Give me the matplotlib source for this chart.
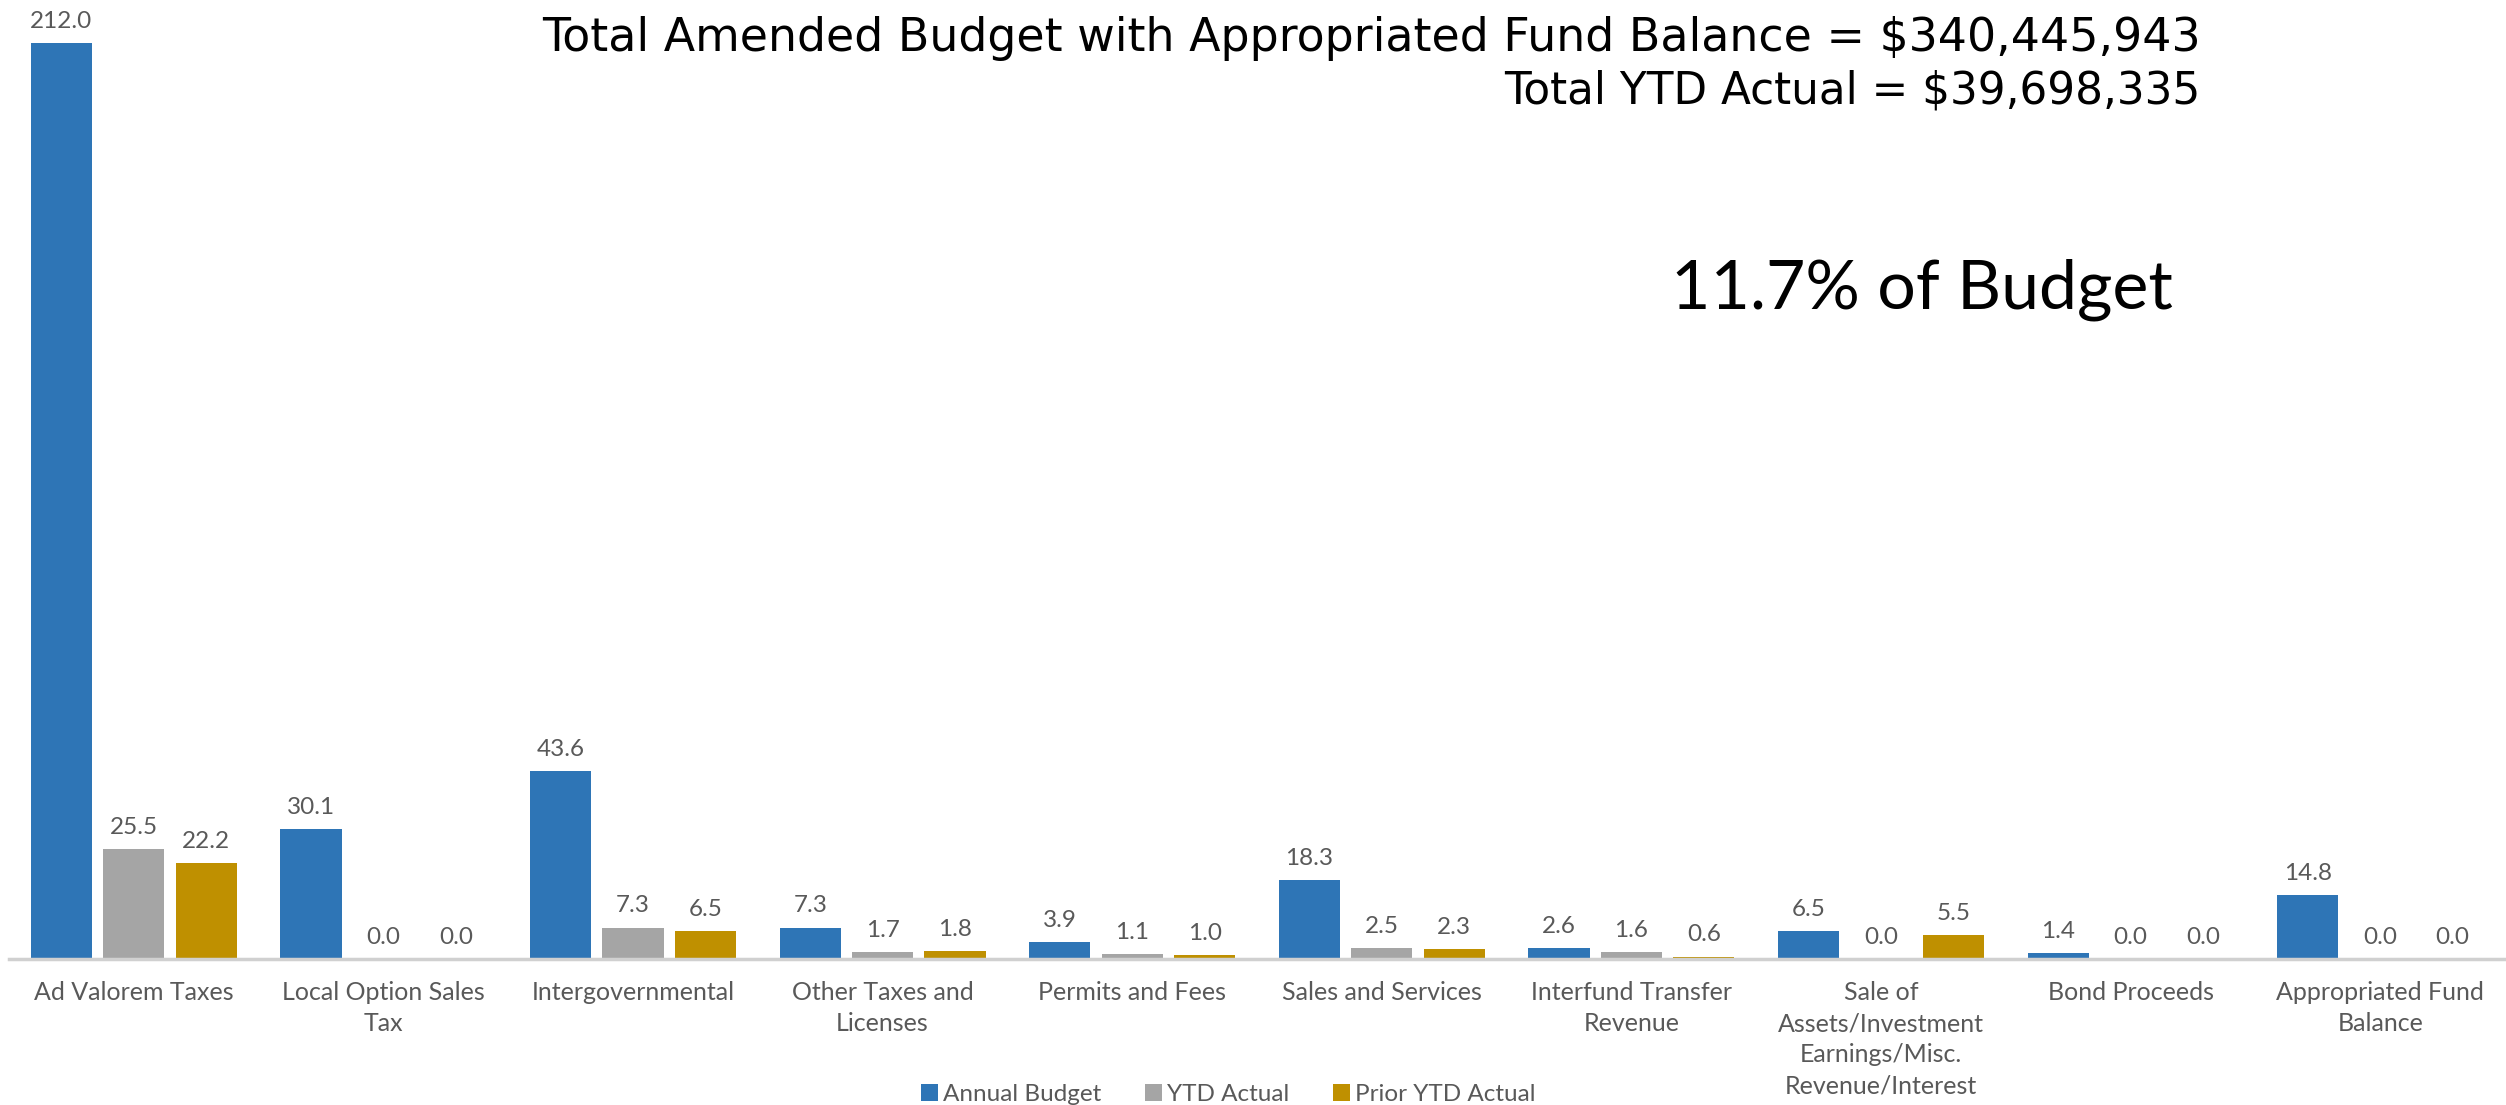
import numpy as np
import matplotlib
matplotlib.use("Agg")
import matplotlib.pyplot as plt
from matplotlib.patches import Patch

# revenue categories (millions)
categories = ["Ad Valorem Taxes", "Local Option Sales\nTax", "Intergovernmental",
              "Other Taxes and\nLicenses", "Permits and Fees", "Sales and Services",
              "Interfund Transfer\nRevenue",
              "Sale of\nAssets/Investment\nEarnings/Misc.\nRevenue/Interest",
              "Bond Proceeds", "Appropriated Fund\nBalance"]
annual_budget = [212.0, 30.1, 43.6, 7.3, 3.9, 18.3, 2.6, 6.5, 1.4, 14.8]
ytd_actual = [25.5, 0.0, 7.3, 1.7, 1.1, 2.5, 1.6, 0.0, 0.0, 0.0]
prior_ytd_actual = [22.2, 0.0, 6.5, 1.8, 1.0, 2.3, 0.6, 5.5, 0.0, 0.0]
series_names = ["Annual Budget", "YTD Actual", "Prior YTD Actual"]

colors = ["#2E75B6", "#A5A5A5", "#BF9000"]
txt_col = "#595959"
lab_font = "Lato"

fig = plt.figure(figsize=(25.06, 11.05), dpi=100)
ax = fig.add_axes([0.0036, 0.132, 0.996, 0.86])

x = np.arange(len(categories))
w = 0.245
offs = [-0.29, 0.0, 0.29]
for vals, off, c in zip([annual_budget, ytd_actual, prior_ytd_actual], offs, colors):
    bars = ax.bar(x + off, vals, w, color=c, edgecolor="none")
    for b, v in zip(bars, vals):
        ax.annotate("%.1f" % v, (b.get_x() + b.get_width() / 2, v),
                    xytext=(0, 8), textcoords="offset points",
                    ha="center", va="bottom", fontsize=17.5,
                    color=txt_col, family=lab_font)

ax.set_xlim(-0.5, len(categories) - 0.5)
ax.set_ylim(0, 220)
for s in ["top", "right", "left"]:
    ax.spines[s].set_visible(False)
ax.spines["bottom"].set_color("#D0D0D0")
ax.spines["bottom"].set_linewidth(2.5)
ax.set_yticks([])
ax.set_xticks(x)
ax.set_xticklabels(categories, fontsize=18, color=txt_col, family=lab_font,
                   linespacing=1.42)
ax.tick_params(axis="x", length=0, pad=16)

handles = [Patch(facecolor=c, edgecolor="none") for c in colors]
fig.legend(handles, series_names, loc="lower center", bbox_to_anchor=(0.49, -0.02),
           ncol=3, frameon=False, handlelength=0.7, handleheight=0.7,
           handletextpad=0.2, columnspacing=1.8,
           prop={"family": lab_font, "size": 17.5}, labelcolor=txt_col)

fig.text(0.878, 0.954, "Total Amended Budget with Appropriated Fund Balance = $340,445,943",
         ha="right", va="baseline", fontsize=33, color="black")
fig.text(0.878, 0.906, "Total YTD Actual = $39,698,335",
         ha="right", va="baseline", fontsize=31.5, color="black")
fig.text(0.867, 0.721, "11.7% of Budget", ha="right", va="baseline",
         fontsize=49, color="black", family=lab_font)

fig.savefig("out.png", dpi=100)
